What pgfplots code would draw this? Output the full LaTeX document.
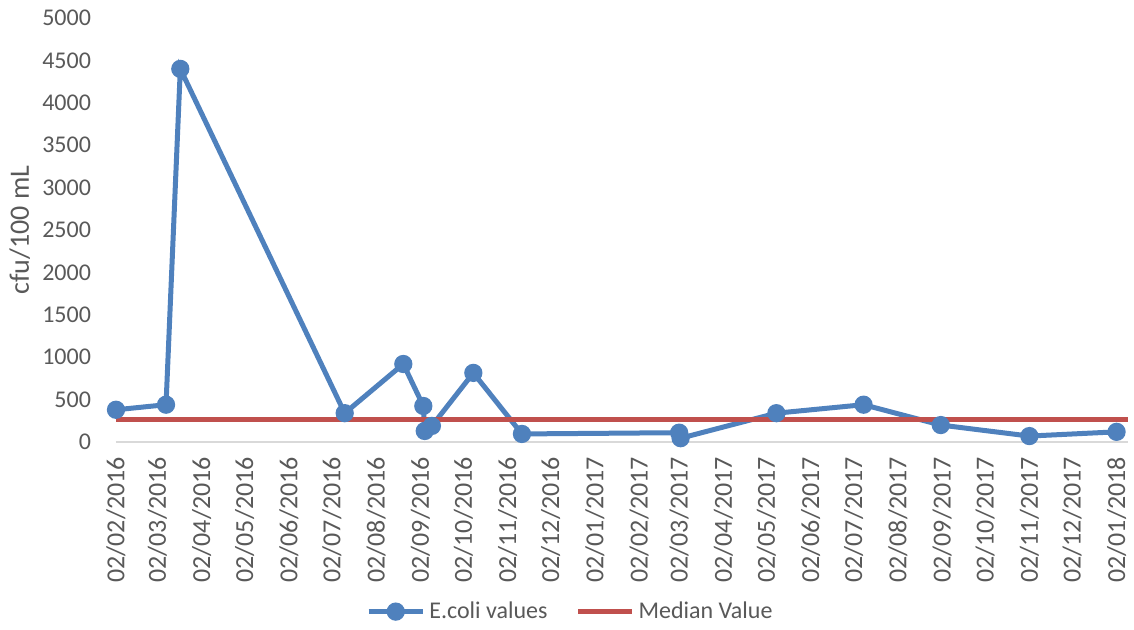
\documentclass[border=0pt]{standalone}
\usepackage{pgfplots}
\pgfplotsset{compat=1.18}
\usepackage{fontspec}
\setmainfont{Carlito}
\definecolor{ecoli}{HTML}{4F81BD}
\definecolor{median}{HTML}{C0504D}
\definecolor{txt}{HTML}{595959}
\definecolor{axgray}{HTML}{D9D9D9}

% days counted from 02/02/2016
\pgfplotstableread{
day value
0   380
35  440
45  4400
160 340
201 920
215 425
216 130
221 190
250 815
284 95
394 110
395 45
462 340
523 440
577 200
639 70
700 120
}\ecolidata

\pgfplotstableread{
day value
0   260
708 260
}\mediandata

\begin{document}
\begin{tikzpicture}[font=\fontsize{12}{14}\selectfont]
\begin{axis}[
    scale only axis,
    width=506pt, height=212pt,
    xmin=0, xmax=708,
    ymin=0, ymax=5000,
    ytick={0,500,...,5000},
    xtick={0,29,60,90,121,151,182,213,243,274,304,335,366,394,425,455,486,516,547,578,608,639,669,700},
    xticklabels={02/02/2016,02/03/2016,02/04/2016,02/05/2016,02/06/2016,02/07/2016,02/08/2016,02/09/2016,02/10/2016,02/11/2016,02/12/2016,02/01/2017,02/02/2017,02/03/2017,02/04/2017,02/05/2017,02/06/2017,02/07/2017,02/08/2017,02/09/2017,02/10/2017,02/11/2017,02/12/2017,02/01/2018},
    xticklabel style={rotate=90, anchor=east, text=txt, xshift=-4pt, font=\fontsize{13}{15}\selectfont},
    yticklabel style={text=txt, xshift=-9pt},
    /pgf/number format/assume math mode=true,
    scaled y ticks=false,
    yticklabel={\pgfmathprintnumber[fixed,1000 sep={}]{\tick}},
    major tick length=0pt,
    axis x line*=bottom,
    axis y line*=left,
    x axis line style={axgray, line width=0.75pt, -},
    y axis line style={draw=none},
    ylabel={cfu/100 mL},
    ylabel style={at={(axis description cs:-0.095,0.5)}, anchor=center, text=txt, font=\fontsize{14}{16}\selectfont},
    clip=false,
    legend columns=2,
    legend style={at={(0.45,-0.40)}, anchor=center, draw=none, text=txt,
        /tikz/every even column/.append style={column sep=12pt}},
    legend image code/.code={
        \draw[#1, mark=none] (0cm,0cm) -- (0.95cm,0cm);
        \path[#1] plot coordinates {(0.475cm,0cm)};
    },
]
\addplot[color=ecoli, line width=2.5pt, mark=*, mark size=3.3pt, mark options={solid, fill=ecoli}]
    table[x=day, y=value] {\ecolidata};
\addlegendentry{E.coli values}
\addplot[color=median, line width=2.5pt, mark=none]
    table[x=day, y=value] {\mediandata};
\addlegendentry{Median Value}
\coordinate (bbsw) at (rel axis cs:0,0);
\coordinate (bbne) at (rel axis cs:1,1);
\end{axis}
\path[use as bounding box] ([xshift=-58pt, yshift=-92pt]bbsw) rectangle ([xshift=3pt, yshift=9pt]bbne);
\end{tikzpicture}
\end{document}
